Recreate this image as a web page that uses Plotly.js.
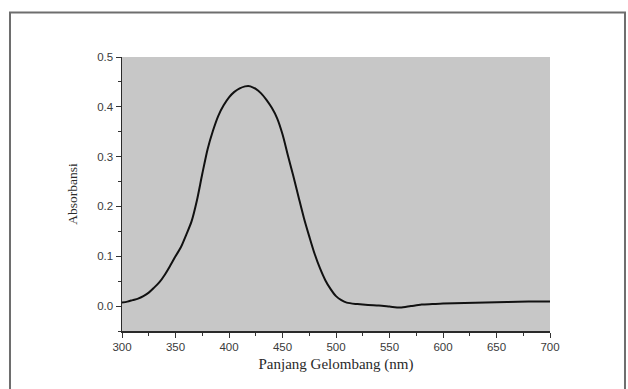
<!DOCTYPE html>
<html>
<head>
<meta charset="utf-8">
<script src="https://cdn.plot.ly/plotly-3.0.1.min.js"></script>
<style>
  html, body { margin: 0; padding: 0; background: #ffffff; }
  #chart { width: 628px; height: 389px; }
</style>
</head>
<body>
<div id="chart"></div>
<script>
// Wavelength (nm)
const wavelength = [
  300, 305, 310, 315, 320, 325, 330, 335, 340, 345,
  350, 355, 360, 365, 370, 375, 380, 385, 390, 395,
  400, 405, 410, 415, 418, 420, 425, 430, 435, 440,
  445, 450, 455, 460, 465, 470, 475, 480, 485, 490,
  495, 500, 505, 510, 520, 530, 540, 550, 560, 570,
  580, 590, 600, 620, 640, 660, 680, 700
];
// Absorbance values
const absorbance = [
  0.007, 0.009, 0.012, 0.015, 0.020, 0.027, 0.037, 0.048, 0.063, 0.081,
  0.100, 0.118, 0.143, 0.170, 0.212, 0.265, 0.315, 0.352, 0.382, 0.403,
  0.419, 0.430, 0.437, 0.441, 0.442, 0.441, 0.436, 0.427, 0.414, 0.398,
  0.377, 0.345, 0.303, 0.262, 0.219, 0.177, 0.140, 0.105, 0.076, 0.052,
  0.034, 0.020, 0.012, 0.007, 0.004, 0.002, 0.001, -0.001, -0.003, 0.000,
  0.003, 0.004, 0.005, 0.006, 0.007, 0.008, 0.009, 0.009
];
const xTickVals = [300, 350, 400, 450, 500, 550, 600, 650, 700];
const xTickText = ["300", "350", "400", "450", "500", "550", "600", "650", "700"];
const yTickVals = [0.0, 0.1, 0.2, 0.3, 0.4, 0.5];
const yTickText = ["0.0", "0.1", "0.2", "0.3", "0.4", "0.5"];

const trace = {
  x: wavelength,
  y: absorbance,
  type: 'scatter',
  mode: 'lines',
  line: { color: '#111111', width: 2, shape: 'spline', smoothing: 0.8 },
  hoverinfo: 'skip',
  showlegend: false
};

const tickFont = { family: 'Liberation Sans, Arial, sans-serif', size: 11.5, color: '#3a3a3a' };
const titleFont = { family: 'Liberation Serif, Times New Roman, serif', size: 15, color: '#2a2a2a' };

const layout = {
  width: 628,
  height: 389,
  margin: { l: 122, r: 78, t: 57, b: 58 },
  paper_bgcolor: '#ffffff',
  plot_bgcolor: '#c7c7c7',
  showlegend: false,
  xaxis: {
    range: [300, 700],
    tickmode: 'array',
    tickvals: xTickVals,
    ticktext: xTickText,
    ticks: 'outside',
    ticklen: 5,
    tickwidth: 1,
    tickcolor: '#333333',
    minor: { ticks: 'outside', dtick: 25, tick0: 300, ticklen: 3, tickcolor: '#333333', showgrid: false },
    showline: true,
    linecolor: '#2a2a2a',
    linewidth: 1.5,
    showgrid: false,
    zeroline: false,
    tickfont: tickFont,
    title: { text: 'Panjang Gelombang (nm)', font: titleFont, standoff: 6 }
  },
  yaxis: {
    range: [-0.05, 0.5],
    tickmode: 'array',
    tickvals: yTickVals,
    ticktext: yTickText,
    ticks: 'outside',
    ticklen: 5,
    tickwidth: 1,
    tickcolor: '#333333',
    minor: { ticks: 'outside', dtick: 0.05, tick0: 0, ticklen: 3, tickcolor: '#333333', showgrid: false },
    showline: true,
    linecolor: '#2a2a2a',
    linewidth: 1.5,
    showgrid: false,
    zeroline: false,
    tickfont: tickFont,
    title: { text: 'Absorbansi', font: { family: titleFont.family, size: 13.5, color: '#2a2a2a' }, standoff: 16 }
  },
  shapes: [
    {
      type: 'rect', xref: 'paper', yref: 'paper',
      x0: -0.2617, x1: 1.1752, y0: -0.2336, y1: 1.1624,
      line: { color: '#6e6e6e', width: 2 },
      fillcolor: 'rgba(0,0,0,0)'
    }
  ]
};

Plotly.newPlot('chart', [trace], layout, { displayModeBar: false, staticPlot: true });
</script>
</body>
</html>
